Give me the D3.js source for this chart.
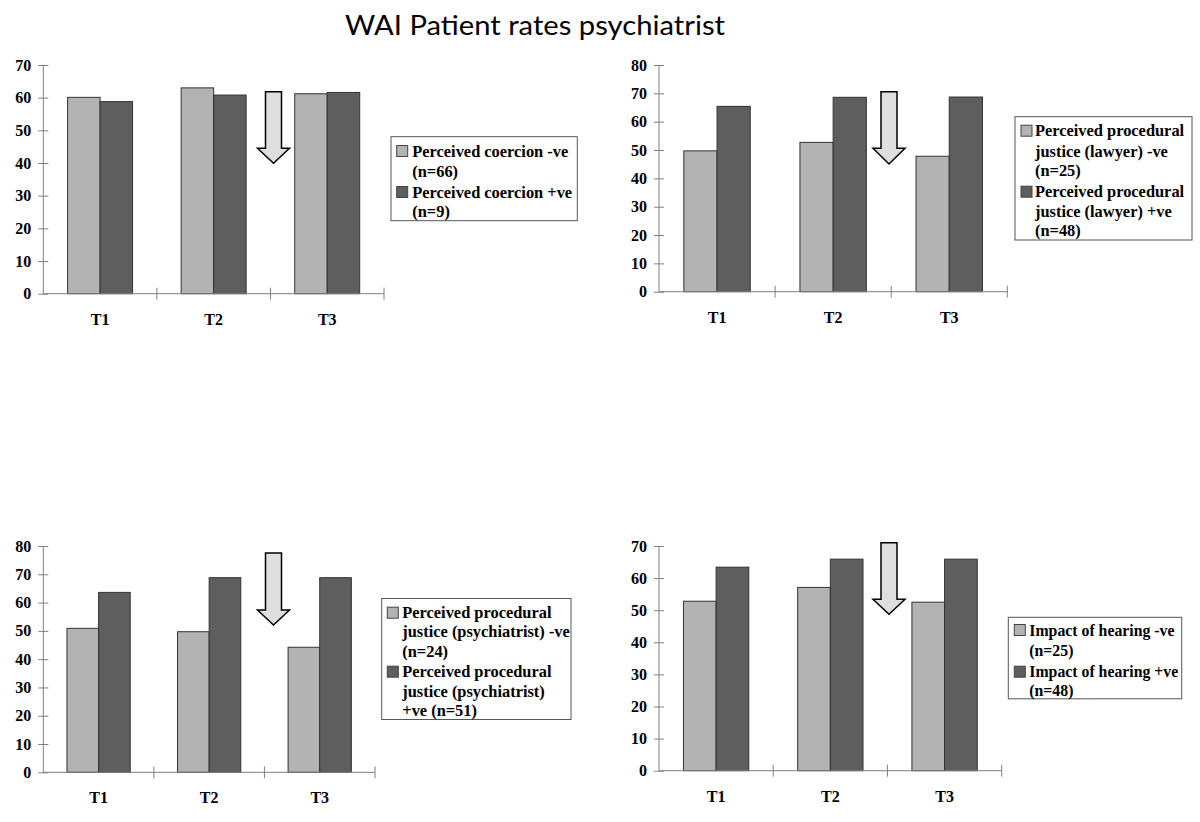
<!DOCTYPE html>
<html>
<head>
<meta charset="utf-8">
<script src="https://cdn.jsdelivr.net/npm/d3@7/dist/d3.min.js"></script>
<style>
  html, body { margin: 0; padding: 0; background: #fff; }
  svg { display: block; }
</style>
</head>
<body>
<svg id="chart" width="1200" height="822"></svg>
<script>
// ---------- DATA ----------
const title = "WAI Patient rates psychiatrist";
const categories = ["T1", "T2", "T3"];

const coercionNeg = [60.1, 63.0, 61.2];
const coercionPos = [58.8, 60.8, 61.6];
const coercionTicks = [0, 10, 20, 30, 40, 50, 60, 70];
const coercionLegend = [["Perceived coercion -ve", "(n=66)"], ["Perceived coercion +ve", "(n=9)"]];

const lawyerNeg = [49.7, 52.7, 47.8];
const lawyerPos = [65.4, 68.6, 68.7];
const lawyerTicks = [0, 10, 20, 30, 40, 50, 60, 70, 80];
const lawyerLegend = [["Perceived procedural", "justice (lawyer) -ve", "(n=25)"], ["Perceived procedural", "justice (lawyer) +ve", "(n=48)"]];

const psychNeg = [50.9, 49.7, 44.2];
const psychPos = [63.6, 68.8, 68.8];
const psychTicks = [0, 10, 20, 30, 40, 50, 60, 70, 80];
const psychLegend = [["Perceived procedural", "justice (psychiatrist) -ve", "(n=24)"], ["Perceived procedural", "justice (psychiatrist)", "+ve (n=51)"]];

const hearingNeg = [52.8, 57.1, 52.5];
const hearingPos = [63.4, 65.9, 65.9];
const hearingTicks = [0, 10, 20, 30, 40, 50, 60, 70];
const hearingLegend = [["Impact of hearing -ve", "(n=25)"], ["Impact of hearing +ve", "(n=48)"]];

const seriesKeys = ["neg", "pos"];

// ---------- STYLE / LAYOUT ----------
const colors = { neg: "#b3b3b3", pos: "#5e5e5e" };
const serif = "'Liberation Serif', 'Times New Roman', serif";
const tickSize = 16;

const panels = [
  { neg: coercionNeg, pos: coercionPos, ticks: coercionTicks, legend: coercionLegend, fs: 16.4,
    left: 43.3, right: 384, top: 65, bottom: 293.7,
    arrow: { cx: 273.5, top: 91.7, head: 148.3, tip: 163.3 },
    leg: { x: 391, y: 136.7, w: 186.3, h: 84, sx: 396.7, tx: 412.3, lines: [[151, 171.5], [192, 211]] } },
  { neg: lawyerNeg, pos: lawyerPos, ticks: lawyerTicks, legend: lawyerLegend, fs: 16.4,
    left: 659, right: 1007.3, top: 65, bottom: 291.7,
    arrow: { cx: 889, top: 91.7, head: 148.3, tip: 164 },
    leg: { x: 1015, y: 116.7, w: 177, h: 123.3, sx: 1021, tx: 1035, lines: [[130.7, 151, 170.5], [191.7, 211.7, 230.7]] } },
  { neg: psychNeg, pos: psychPos, ticks: psychTicks, legend: psychLegend, fs: 16.4,
    left: 43.3, right: 375, top: 546, bottom: 772.3,
    arrow: { cx: 273.5, top: 553, head: 610, tip: 625 },
    leg: { x: 381.7, y: 598.5, w: 189.3, h: 121, sx: 387.3, tx: 402.3, lines: [[612.7, 631.7, 651.7], [671.7, 691.7, 710]] } },
  { neg: hearingNeg, pos: hearingPos, ticks: hearingTicks, legend: hearingLegend, fs: 15.8,
    left: 659, right: 1001.7, top: 546, bottom: 770.7,
    arrow: { cx: 889, top: 542.7, head: 599.3, tip: 614.3 },
    leg: { x: 1008.3, y: 617.3, w: 173.4, h: 81.5, sx: 1014.3, tx: 1029.3, lines: [[630, 650], [671.7, 690]] } }
];

const svg = d3.select("#chart");

svg.append("text")
  .attr("x", 345).attr("y", 35)
  .attr("textLength", 380).attr("lengthAdjust", "spacingAndGlyphs")
  .attr("font-family", "Lato, 'Open Sans', sans-serif")
  .attr("font-size", 27)
  .attr("fill", "#000")
  .text(title);

panels.forEach(p => {
  const g = svg.append("g");
  const yMax = p.ticks[p.ticks.length - 1];
  const y = d3.scaleLinear().domain([0, yMax]).range([p.bottom, p.top]);
  const x = d3.scaleBand().domain(categories).range([p.left, p.right]).padding(0);
  const bw = x.bandwidth();
  const xs = d3.scaleBand().domain(seriesKeys).range([bw * 0.214, bw * 0.786]).padding(0);

  // bars
  categories.forEach((c, i) => {
    seriesKeys.forEach(k => {
      g.append("rect")
        .attr("x", x(c) + xs(k))
        .attr("y", y(p[k][i]))
        .attr("width", xs.bandwidth())
        .attr("height", y(0) - y(p[k][i]))
        .attr("fill", colors[k])
        .attr("stroke", "#333")
        .attr("stroke-width", 1);
    });
  });

  // y axis
  const yAxis = d3.axisLeft(y).tickValues(p.ticks).tickSize(0).tickPadding(0);
  const ya = g.append("g").attr("transform", `translate(${p.left},0)`).call(yAxis);
  ya.select(".domain").remove();
  ya.selectAll("text")
    .attr("x", -12)
    .attr("font-family", serif).attr("font-weight", "bold").attr("font-size", tickSize).attr("fill", "#000");
  ya.selectAll(".tick").append("line")
    .attr("x1", -5).attr("x2", 5).attr("stroke", "#808080");
  g.append("line")
    .attr("x1", p.left).attr("x2", p.left).attr("y1", p.top).attr("y2", p.bottom)
    .attr("stroke", "#808080");

  // x axis
  const xAxis = d3.axisBottom(x).tickSize(0).tickPadding(0);
  const xa = g.append("g").attr("transform", `translate(0,${p.bottom})`).call(xAxis);
  xa.select(".domain").remove();
  xa.selectAll("text")
    .attr("y", 31).attr("dy", 0)
    .attr("font-family", serif).attr("font-weight", "bold").attr("font-size", tickSize).attr("fill", "#000");
  g.append("line")
    .attr("x1", p.left).attr("x2", p.right).attr("y1", p.bottom).attr("y2", p.bottom)
    .attr("stroke", "#808080");
  categories.forEach(c => {
    const bx = x(c) + bw;
    g.append("line")
      .attr("x1", bx).attr("x2", bx).attr("y1", p.bottom - 6).attr("y2", p.bottom + 6)
      .attr("stroke", "#808080");
  });

  // arrow
  const a = p.arrow;
  const pts = [
    [a.cx - 8, a.top], [a.cx + 8, a.top], [a.cx + 8, a.head], [a.cx + 16, a.head],
    [a.cx, a.tip], [a.cx - 16, a.head], [a.cx - 8, a.head]
  ];
  g.append("path")
    .attr("d", d3.line()(pts) + "Z")
    .attr("fill", "#dedede").attr("stroke", "#000").attr("stroke-width", 1.5)
    .attr("stroke-linejoin", "miter");

  // legend
  const L = p.leg;
  g.append("rect")
    .attr("x", L.x).attr("y", L.y).attr("width", L.w).attr("height", L.h)
    .attr("fill", "#fff").attr("stroke", "#555").attr("stroke-width", 1);
  seriesKeys.forEach((k, j) => {
    const lines = L.lines[j];
    g.append("rect")
      .attr("x", L.sx).attr("y", lines[0] - 5.5).attr("width", 11).attr("height", 11)
      .attr("fill", colors[k]).attr("stroke", "#444").attr("stroke-width", 1);
    p.legend[j].forEach((t, li) => {
      g.append("text")
        .attr("x", L.tx).attr("y", lines[li]).attr("dy", "0.35em")
        .attr("font-family", serif).attr("font-weight", "bold").attr("font-size", p.fs)
        .attr("fill", "#000")
        .text(t);
    });
  });
});
</script>
</body>
</html>
